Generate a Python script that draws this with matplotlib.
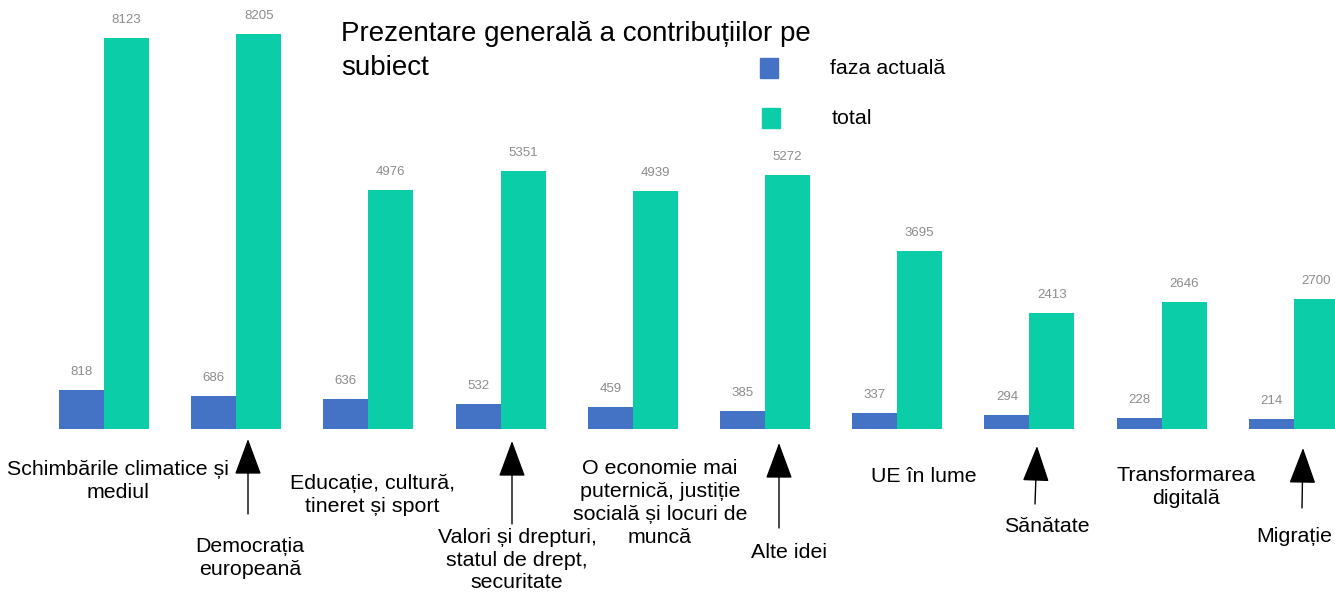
import matplotlib.pyplot as plt
import numpy as np

plt.rcParams['font.family'] = ['Liberation Sans', 'DejaVu Sans']

categories = ["Schimbările climatice și\nmediul", "Democrația\neuropeană",
              "Educație, cultură,\ntineret și sport",
              "Valori și drepturi,\nstatul de drept,\nsecuritate",
              "O economie mai\nputernică, justiție\nsocială și locuri de\nmuncă",
              "Alte idei", "UE în lume", "Sănătate",
              "Transformarea\ndigitală", "Migrație"]
faza_actuala = [818, 686, 636, 532, 459, 385, 337, 294, 228, 214]
total = [8123, 8205, 4976, 5351, 4939, 5272, 3695, 2413, 2646, 2700]

# label placement in pixels (from top-left), and arrows (tail -> tip)
label_pos = [(118, 481), (250, 558), (372, 495), (517, 560), (660, 503),
             (789, 552), (924, 477), (1047, 526), (1186, 487), (1294, 537)]
arrows = [((248, 514), (248, 439)), ((512, 524), (512, 441)),
          ((779, 528), (779, 443)), ((1035, 504), (1037, 446)),
          ((1302, 508), (1303, 448))]

W, H = 1335, 592
blue = "#4472c4"
teal = "#0bcea8"

fig = plt.figure(figsize=(W / 100, H / 100), dpi=100)
ax = fig.add_axes([0, 0, 1, 1])

pitch = 132.2
bw = 45 / pitch
ax.set_xlim(-104 / pitch, (W - 104) / pitch)
upp = 8205 / 395.3
ax.set_ylim(-(H - 429.3) * upp, 429.3 * upp)
ax.axis('off')

x = np.arange(len(categories))
b1 = ax.bar(x - bw / 2, faza_actuala, bw, color=blue, label="faza actuală")
b2 = ax.bar(x + bw / 2, total, bw, color=teal, label="total")

for bars in (b1, b2):
    for r in bars:
        ax.annotate(f"{int(r.get_height())}", (r.get_x() + r.get_width() / 2, r.get_height()),
                    xytext=(0, 13), textcoords='offset points', ha='center', va='center',
                    fontsize=9.5, color='#8c8c8c')

def fp(px, py):
    return px / W, 1 - py / H

for lab, (px, py) in zip(categories, label_pos):
    fig.text(*fp(px, py), lab, ha='center', va='center', fontsize=15.4,
             linespacing=1.25, color='black')

for tail, tip in arrows:
    ax.annotate('', xy=fp(*tip), xytext=fp(*tail), xycoords='figure fraction',
                textcoords='figure fraction',
                arrowprops=dict(arrowstyle='-|>,head_length=2.3,head_width=0.85',
                                mutation_scale=10, color='black', lw=1.0,
                                shrinkA=0, shrinkB=0))

fig.text(*fp(341, 51), "Prezentare generală a contribuțiilor pe\nsubiect",
         ha='left', va='center', fontsize=20, linespacing=1.42)

# legend drawn by hand to match placement
fig.patches.append(plt.Rectangle(fp(760, 78), 18 / W, 20 / H, color=blue,
                                 transform=fig.transFigure, figure=fig))
fig.patches.append(plt.Rectangle(fp(762, 128), 18 / W, 20 / H, color=teal,
                                 transform=fig.transFigure, figure=fig))
fig.text(*fp(830, 68), "faza actuală", ha='left', va='center', fontsize=15.4)
fig.text(*fp(832, 118), "total", ha='left', va='center', fontsize=15.4)

fig.savefig("out.png", dpi=100)
